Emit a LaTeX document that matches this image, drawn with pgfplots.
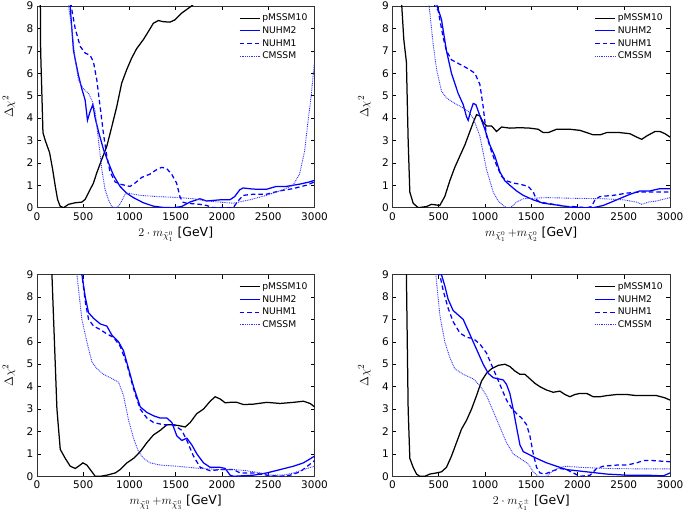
\documentclass[border=0pt]{standalone}
\usepackage{fontspec}
\setmainfont{DejaVu Sans}
\usepackage{pgfplots}
\pgfplotsset{compat=1.18}
\usepgfplotslibrary{groupplots}

\pgfplotsset{
  pm/.style={black, line width=1.25pt},
  nh2/.style={blue, line width=1.25pt},
  nh1/.style={blue, line width=1.25pt, dash pattern=on 4.5pt off 3pt},
  cm/.style={blue!80!white, line width=0.9pt, dash pattern=on 0.9pt off 0.9pt},
}

\begin{document}
\begin{tikzpicture}
\begin{groupplot}[
  group style={group size=2 by 2, horizontal sep=78pt, vertical sep=67pt},
  width=278pt, height=202pt, scale only axis,
  xmin=0, xmax=3000, ymin=0, ymax=9,
  xtick={0,500,...,3000}, ytick={0,1,...,9},
  tick align=inside, major tick length=4pt,
  tick style={black, line width=0.5pt},
  axis line style={black!80, line width=0.6pt},
  /pgf/number format/assume math mode=true,
  /pgf/number format/set thousands separator={},
  ticklabel style={font=\fontsize{10.5}{12}\selectfont},
  xticklabel style={yshift=-1pt},
  ylabel={$\Delta\chi^2$},
  ylabel style={at={(axis description cs:-0.101,0.5)}, anchor=center, font=\fontsize{13}{15}\selectfont},
  xlabel style={at={(axis description cs:0.5,-0.13)}, anchor=center, font=\fontsize{12.5}{14}\selectfont},
  legend image code/.code={\draw[#1] (0pt,0pt) -- (20pt,0pt);},
  legend style={at={(0.982,0.972)}, anchor=north east, draw=none, fill=none,
    inner sep=0pt, font=\fontsize{9.2}{11}\selectfont,
    nodes={inner sep=2pt, text height=7pt, text depth=1.7pt},
    /tikz/every even column/.append style={column sep=2pt}},
  legend cell align=left,
]

% ---------- panel 1: 2 m_chi10
\nextgroupplot[xlabel={$2\cdot m_{\tilde\chi_1^0}$ [GeV]}]
\addplot[pm] coordinates {(36,9.6) (40,7) (65,3.35) (90,3.0) (137,2.45) (170,1.7) (198,0.96) (223,0.37) (250,0.07) (287,0.0) (341,0.15) (413,0.22) (485,0.25) (521,0.37) (557,0.67) (611,1.1) (647,1.56) (700,2.15) (755,2.74) (808,3.6) (862,4.5) (916,5.56) (970,6.16) (1024,6.68) (1078,7.1) (1150,7.5) (1204,7.86) (1258,8.23) (1312,8.35) (1365,8.3) (1437,8.28) (1491,8.38) (1563,8.68) (1671,9.0) (1700,9.1)};
\addplot[nh2] coordinates {(355,9.5) (359,9.0) (395,7.0) (449,5.9) (485,5.3) (521,4.8) (546,3.9) (575,4.3) (604,4.6) (629,4.0) (665,3.4) (719,2.6) (773,2.0) (827,1.45) (898,0.95) (970,0.65) (1042,0.45) (1150,0.22) (1258,0.07) (1365,0.01) (1473,0.0) (1563,0.05) (1653,0.25) (1760,0.4) (1832,0.3) (1976,0.35) (2084,0.35) (2138,0.5) (2192,0.8) (2228,0.88) (2335,0.83) (2479,0.82) (2587,0.95) (2695,0.95) (2838,1.05) (2946,1.15) (2982,1.2) (3000,1.2)};
\addplot[nh1] coordinates {(365,9.5) (370,9.0) (413,8.0) (467,7.2) (521,6.9) (575,6.8) (611,6.5) (647,5.7) (683,4.5) (719,3.3) (755,2.3) (790,1.6) (845,1.15) (898,1.05) (952,1.0) (1006,0.95) (1060,1.1) (1132,1.35) (1222,1.5) (1294,1.7) (1348,1.8) (1401,1.75) (1455,1.5) (1509,1.1) (1545,0.5) (1574,0.25) (1617,0.2) (1760,0.15) (1832,0.1) (1904,0.0) (2120,0.0) (2174,0.3) (2228,0.55) (2335,0.6) (2479,0.6) (2623,0.75) (2767,0.85) (2910,1.0) (3000,1.15)};
\addplot[cm] coordinates {(336,9.5) (341,9.0) (377,8.0) (413,6.6) (449,5.7) (503,5.3) (557,5.1) (593,4.8) (629,4.3) (665,3.0) (701,1.7) (737,0.8) (773,0.35) (808,0.05) (845,0.0) (880,0.05) (916,0.3) (952,0.6) (988,0.65) (1114,0.55) (1294,0.5) (1545,0.45) (1689,0.4) (1832,0.3) (1976,0.25) (2120,0.2) (2300,0.35) (2479,0.55) (2659,0.8) (2767,1.0) (2838,1.5) (2892,2.5) (2928,3.8) (2964,5.0) (2982,5.8) (3000,6.5)};
\legend{pMSSM10,NUHM2,NUHM1,CMSSM}

% ---------- panel 2: m_chi10 + m_chi20
\nextgroupplot[xlabel={$m_{\tilde\chi_1^0}\,{+}m_{\tilde\chi_2^0}$ [GeV]}]
\addplot[pm] coordinates {(98,9.5) (101,9.0) (123,7.5) (151,6.5) (170,3.0) (188,0.7) (224,0.2) (278,0.0) (368,0.05) (422,0.15) (476,0.12) (512,0.1) (566,0.5) (620,1.2) (674,1.8) (728,2.3) (783,2.8) (837,3.4) (873,3.8) (909,4.15) (945,4.1) (981,3.8) (1017,3.65) (1071,3.65) (1125,3.4) (1179,3.6) (1269,3.55) (1378,3.57) (1486,3.55) (1576,3.5) (1630,3.35) (1684,3.35) (1774,3.5) (1918,3.5) (2027,3.45) (2099,3.35) (2171,3.25) (2243,3.25) (2315,3.35) (2460,3.35) (2568,3.3) (2640,3.15) (2694,3.05) (2748,3.2) (2838,3.4) (2892,3.4) (2946,3.3) (3000,3.15)};
\addplot[nh2] coordinates {(478,9.5) (483,9.0) (530,8.4) (584,7.0) (638,6.0) (710,5.1) (765,4.6) (801,4.05) (819,3.9) (844,4.3) (873,4.65) (902,4.6) (945,4.1) (999,3.5) (1053,2.8) (1107,2.3) (1161,1.6) (1215,1.2) (1269,1.0) (1341,0.75) (1414,0.55) (1522,0.35) (1630,0.2) (1774,0.12) (1918,0.03) (2063,0.0) (2171,0.0) (2279,0.1) (2424,0.35) (2568,0.6) (2676,0.75) (2784,0.75) (2892,0.85) (3000,0.85)};
\addplot[nh1] coordinates {(450,9.5) (458,9.0) (494,8.8) (548,7.6) (584,7.0) (638,6.6) (728,6.4) (819,6.2) (891,6.0) (945,5.5) (981,4.5) (1017,3.2) (1071,2.5) (1125,1.9) (1179,1.4) (1233,1.2) (1305,1.1) (1378,1.05) (1468,0.95) (1522,0.7) (1558,0.35) (1594,0.25) (1738,0.15) (1882,0.05) (1954,0.05) (2099,0.0) (2153,0.05) (2189,0.35) (2243,0.5) (2387,0.55) (2532,0.65) (2676,0.7) (2856,0.7) (3000,0.7)};
\addplot[cm] coordinates {(390,9.5) (397,9.0) (440,7.3) (476,6.2) (530,5.2) (584,4.9) (674,4.65) (765,4.45) (819,4.3) (873,4.0) (945,3.2) (1017,1.7) (1089,0.7) (1143,0.3) (1197,0.1) (1233,0.0) (1276,0.0) (1341,0.25) (1414,0.4) (1522,0.42) (1666,0.45) (1954,0.42) (2279,0.4) (2496,0.35) (2640,0.25) (2694,0.15) (2766,0.25) (2856,0.3) (3000,0.45)};
\legend{pMSSM10,NUHM2,NUHM1,CMSSM}

% ---------- panel 3: m_chi10 + m_chi30
\nextgroupplot[xlabel={$m_{\tilde\chi_1^0}\,{+}m_{\tilde\chi_3^0}$ [GeV]}]
\addplot[pm] coordinates {(158,9.5) (162,9.0) (198,5.0) (216,3.0) (252,1.2) (306,0.8) (360,0.45) (414,0.35) (450,0.45) (497,0.6) (540,0.5) (594,0.2) (630,0.0) (684,0.0) (756,0.05) (846,0.15) (900,0.3) (972,0.6) (1044,0.8) (1116,1.1) (1188,1.5) (1260,1.85) (1332,2.05) (1404,2.3) (1476,2.3) (1548,2.25) (1602,2.2) (1656,2.4) (1728,2.8) (1800,3.0) (1872,3.35) (1926,3.55) (1980,3.45) (2034,3.28) (2088,3.3) (2160,3.3) (2232,3.2) (2340,3.22) (2484,3.3) (2628,3.25) (2772,3.3) (2880,3.35) (2952,3.25) (3000,3.1)};
\addplot[nh2] coordinates {(480,9.5) (486,9.0) (522,8.0) (558,7.3) (612,7.05) (684,6.8) (756,6.7) (810,6.3) (882,6.0) (936,5.6) (990,4.8) (1044,4.0) (1116,3.1) (1188,2.85) (1260,2.7) (1332,2.6) (1404,2.6) (1458,2.4) (1512,1.8) (1566,1.6) (1620,1.7) (1674,1.4) (1728,1.0) (1800,0.6) (1872,0.4) (1980,0.4) (2034,0.35) (2088,0.05) (2124,0.0) (2340,0.05) (2484,0.15) (2628,0.3) (2772,0.45) (2880,0.6) (3000,0.9)};
\addplot[nh1] coordinates {(480,9.5) (486,9.0) (522,7.8) (558,7.0) (612,6.7) (684,6.55) (756,6.35) (828,6.2) (900,5.8) (972,5.0) (1044,3.9) (1116,3.0) (1188,2.6) (1260,2.4) (1368,2.3) (1476,2.3) (1566,2.05) (1620,1.6) (1692,0.9) (1764,0.4) (1872,0.25) (1980,0.3) (2124,0.3) (2196,0.15) (2340,0.15) (2484,0.05) (2628,0.0) (2736,0.05) (2844,0.2) (3000,0.7)};
\addplot[cm] coordinates {(425,9.5) (432,9.0) (486,7.0) (540,6.0) (594,5.1) (648,4.8) (720,4.55) (792,4.4) (882,4.2) (936,3.6) (990,2.5) (1044,1.7) (1098,1.1) (1152,0.8) (1224,0.6) (1332,0.5) (1512,0.45) (1764,0.35) (1980,0.3) (2124,0.3) (2268,0.25) (2412,0.15) (2520,0.05) (2664,0.05) (2772,0.15) (2880,0.3) (3000,0.45)};
\legend{pMSSM10,NUHM2,NUHM1,CMSSM}

% ---------- panel 4: 2 m_chi1+-
\nextgroupplot[xlabel={$2\cdot m_{\tilde\chi_1^\pm}$ [GeV]}]
\addplot[pm] coordinates {(148,9.5) (151,9.0) (170,3.0) (188,0.8) (224,0.4) (260,0.1) (296,0.0) (350,0.0) (404,0.1) (476,0.15) (530,0.2) (584,0.4) (638,0.9) (692,1.5) (746,2.1) (801,2.5) (855,3.0) (909,3.6) (963,4.25) (1017,4.6) (1071,4.8) (1143,4.95) (1215,5.0) (1269,4.9) (1323,4.7) (1378,4.55) (1432,4.55) (1486,4.35) (1540,4.15) (1594,4.0) (1666,3.85) (1738,3.75) (1810,3.8) (1864,3.65) (1918,3.55) (1972,3.65) (2027,3.7) (2099,3.7) (2171,3.55) (2243,3.55) (2315,3.6) (2424,3.65) (2532,3.65) (2640,3.6) (2748,3.6) (2856,3.6) (2946,3.5) (3000,3.4)};
\addplot[nh2] coordinates {(522,9.5) (530,9.0) (566,8.5) (602,7.9) (656,7.4) (710,7.2) (765,7.0) (819,6.5) (873,6.0) (927,5.5) (981,5.0) (1035,4.6) (1089,4.4) (1143,4.35) (1197,4.3) (1233,4.1) (1269,3.7) (1305,3.0) (1341,2.2) (1378,1.4) (1414,1.1) (1486,0.95) (1558,0.8) (1666,0.6) (1774,0.45) (1882,0.3) (1990,0.25) (2099,0.2) (2315,0.1) (2532,0.05) (2748,0.05) (2928,0.02) (3000,0.15)};
\addplot[nh1] coordinates {(505,9.5) (512,9.0) (548,8.3) (602,7.5) (656,6.9) (728,6.4) (801,6.2) (873,6.15) (945,5.9) (1017,5.5) (1089,4.8) (1161,4.1) (1233,3.4) (1287,3.05) (1341,2.8) (1396,2.6) (1450,2.3) (1486,1.8) (1522,1.0) (1558,0.4) (1594,0.15) (1648,0.1) (1738,0.25) (1810,0.35) (1882,0.3) (1954,0.15) (2027,0.0) (2135,0.05) (2207,0.35) (2279,0.45) (2424,0.5) (2532,0.5) (2640,0.6) (2712,0.7) (2820,0.7) (3000,0.65)};
\addplot[cm] coordinates {(462,9.5) (469,9.0) (512,7.2) (566,6.0) (620,5.3) (674,4.8) (765,4.55) (873,4.35) (945,4.05) (1017,3.6) (1089,2.9) (1161,2.2) (1233,1.5) (1305,1.0) (1396,0.75) (1468,0.55) (1522,0.2) (1576,0.0) (1666,0.0) (1738,0.25) (1810,0.4) (1882,0.45) (2027,0.4) (2315,0.35) (2676,0.33) (3000,0.33)};
\legend{pMSSM10,NUHM2,NUHM1,CMSSM}
\end{groupplot}
\pgfresetboundingbox
\path[use as bounding box] ([shift={(-37pt,6pt)}]group c1r1.north west) rectangle ([shift={(15pt,-39pt)}]group c2r2.south east);
\end{tikzpicture}
\end{document}
